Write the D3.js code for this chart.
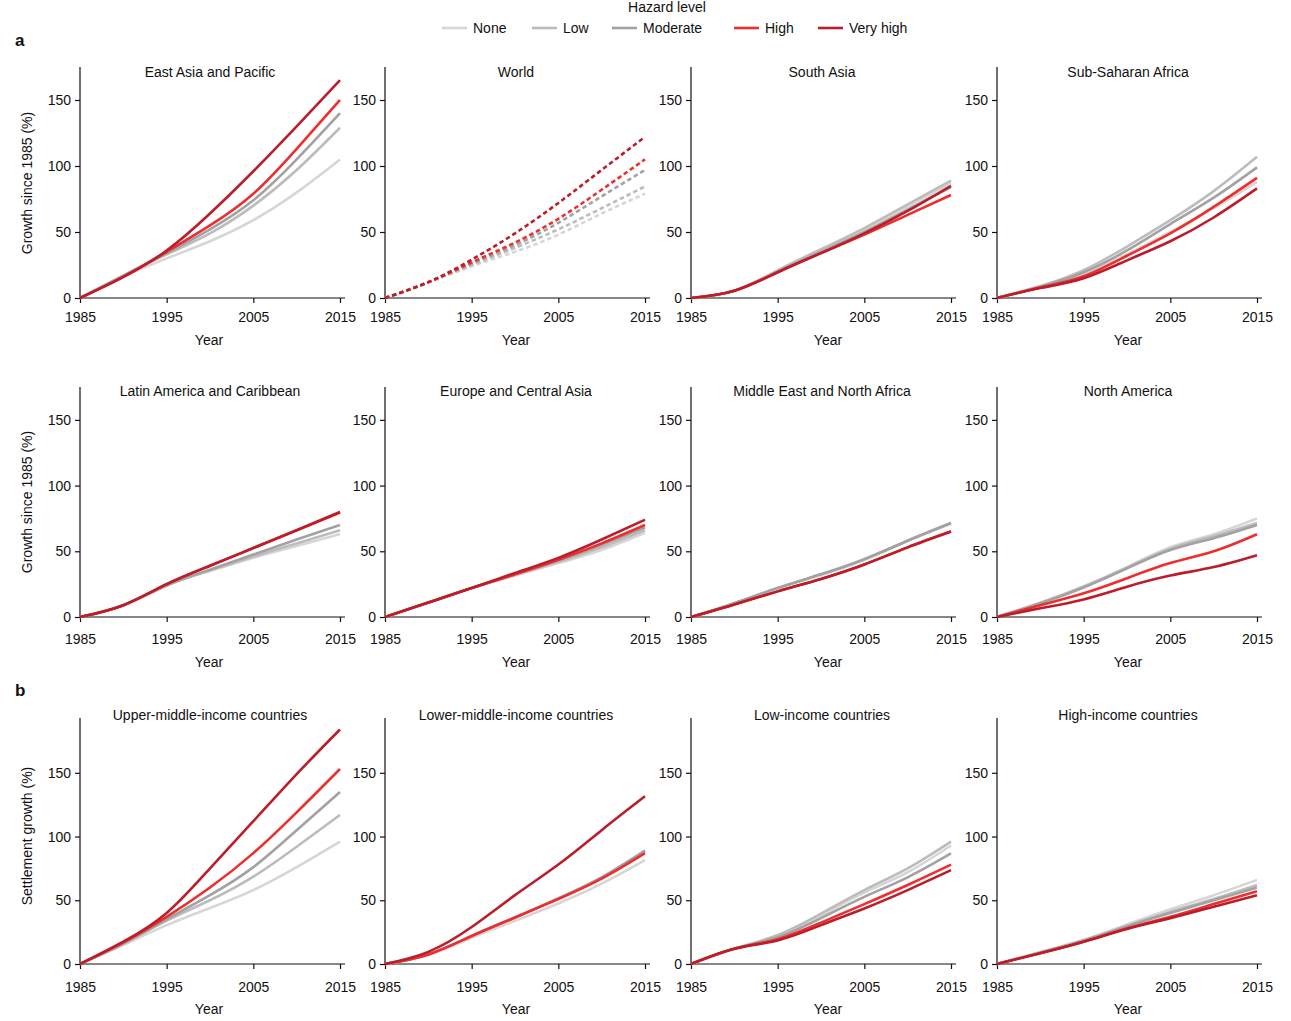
<!DOCTYPE html>
<html><head><meta charset="utf-8">
<script src="https://cdn.jsdelivr.net/npm/d3@7"></script>
<style>
body{margin:0;background:#fff;}
svg text{font-family:"Liberation Sans",Arial,Helvetica,sans-serif;fill:#111;}
</style></head>
<body><svg id="c" width="1291" height="1021"></svg>
<script>
const years = [1985, 1990, 1995, 2000, 2005, 2010, 2015];
const levels = ["None", "Low", "Moderate", "High", "Very high"];
const xTicks = [1985, 1995, 2005, 2015];
const yTicks = [0, 50, 100, 150];

// values per panel: [None, Low, Moderate, High, Very high]
const eastAsia = [
  [0, 16, 30, 43, 59, 80, 105],
  [0, 17, 33, 49, 70, 97, 129],
  [0, 17, 34, 52, 74, 105, 140],
  [0, 16, 35, 55, 79, 113, 150],
  [0, 16, 36, 64, 96, 130, 165]];
const world = [
  [0, 11.5, 24, 35, 48, 64, 79],
  [0, 12, 25, 38, 52, 68, 84.5],
  [0, 12, 26, 40, 57, 77, 97],
  [0, 12, 27, 42, 60, 82, 105],
  [0, 12, 29, 49, 72, 97, 122]];
const southAsia = [
  [0, 5.5, 20, 36, 52, 69, 87],
  [0, 5.5, 21, 37, 53, 71, 89],
  [0, 5.5, 20, 35, 50, 67, 84],
  [0, 5.5, 19.5, 34, 48, 63, 78],
  [0, 5.5, 19.5, 34, 49, 66, 85]];
const subSaharan = [
  [0, 8, 18, 33, 50, 68, 88],
  [0, 9, 21, 39, 59, 81, 107],
  [0, 8.5, 19.5, 36, 56, 76, 99],
  [0, 8, 16.5, 32, 49, 69, 91],
  [0, 7.5, 15, 28.5, 43, 61, 83]];
const latinAmerica = [
  [0, 9, 24, 35, 45, 54, 63],
  [0, 9, 24, 35.5, 46, 56, 66],
  [0, 9, 24, 36, 47.5, 59, 70],
  [0, 9, 25, 39, 52.5, 66, 79.5],
  [0, 9, 25, 39, 52.5, 66, 80]];
const europe = [
  [0, 11, 22, 31.5, 41, 51, 64],
  [0, 11, 22, 32, 42, 53, 66],
  [0, 11, 22, 32.5, 43, 55, 68],
  [0, 11, 22, 32.5, 43.6, 56, 70],
  [0, 11, 22, 33.5, 45, 59, 74]];
const middleEast = [
  [0, 10.5, 22, 32, 43.5, 58, 71],
  [0, 10.5, 22, 32.5, 44, 58, 71.5],
  [0, 10.5, 22, 32.5, 44, 58, 71.5],
  [0, 9.5, 19.5, 29, 40, 53, 65],
  [0, 9.5, 19.5, 29, 40, 53, 65]];
const northAmerica = [
  [0, 11, 23.5, 38, 53, 63, 75],
  [0, 10.5, 23, 37.5, 52, 61.5, 71.5],
  [0, 10.5, 22.5, 37, 51, 60, 70],
  [0, 9, 18, 29.5, 41, 50, 63],
  [0, 6.6, 13.4, 23, 31.5, 38, 47]];
const upperMiddle = [
  [0, 15, 30.5, 44, 58, 76, 96],
  [0, 16, 34, 50, 68.5, 92, 117],
  [0, 16, 35, 54, 76, 105, 135],
  [0, 17, 37, 60, 87, 119, 153],
  [0, 17.5, 40, 75, 112, 149, 184]];
const lowerMiddle = [
  [0, 7, 20.5, 34, 47.5, 63, 81.5],
  [0, 7.5, 22, 36.5, 51.5, 68, 89],
  [0, 7.5, 22, 36.5, 51.5, 68, 89],
  [0, 7.5, 22, 36.5, 51, 67, 87],
  [0, 9.5, 29, 54, 78, 105, 131.6]];
const lowIncome = [
  [0, 12, 22, 38, 56, 72, 93],
  [0, 12, 22.7, 39.5, 58, 75, 96],
  [0, 12, 21, 36, 52.7, 68, 86.7],
  [0, 12, 19.5, 32.5, 47, 62, 78],
  [0, 12, 18.5, 30.5, 43.6, 58, 73.6]];
const highIncome = [
  [0, 9.5, 19, 31, 43, 54, 66],
  [0, 9, 18.5, 30, 41, 51, 62],
  [0, 9, 18.5, 29.5, 40, 50, 60],
  [0, 8.5, 17.5, 28, 37, 47, 57],
  [0, 8.5, 17.5, 27.5, 36, 45, 54]];

const panelTitles = ["East Asia and Pacific", "World", "South Asia", "Sub-Saharan Africa",
  "Latin America and Caribbean", "Europe and Central Asia", "Middle East and North Africa", "North America",
  "Upper-middle-income countries", "Lower-middle-income countries", "Low-income countries", "High-income countries"];
const panelData = [eastAsia, world, southAsia, subSaharan, latinAmerica, europe, middleEast, northAmerica,
  upperMiddle, lowerMiddle, lowIncome, highIncome];

const colors = ["#d6d6d6", "#bcbcbc", "#a2a2a2", "#ee2d2f", "#bb1e2b"];

const svg = d3.select("#c");
const colX = [80, 385, 691, 997];
const titleDx = [0, 1, 1, 1];
const yearDx = [-1, 1, 7, 1];
const rows = [
  {y0: 298, top: 67, max: 175, title: 77, xlab: 345, pad: 9, ylc: 183, ylabel: "Growth since 1985 (%)"},
  {y0: 617, top: 387, max: 175, title: 396, xlab: 667, pad: 12, ylc: 502, ylabel: "Growth since 1985 (%)"},
  {y0: 964, top: 718, max: 193, title: 720, xlab: 1014, pad: 13, ylc: 836, ylabel: "Settlement growth (%)"}];
const W = 260;

panelData.forEach((data, i) => {
  const r = rows[Math.floor(i / 4)];
  const x0 = colX[i % 4];
  const x = d3.scaleLinear().domain([1985, 2015]).range([x0, x0 + W]);
  const y = d3.scaleLinear().domain([0, r.max]).range([r.y0, r.top]);
  const g = svg.append("g");

  const xa = g.append("g").attr("transform", `translate(0,${r.y0})`)
    .call(d3.axisBottom(x).tickValues(xTicks).tickFormat(d3.format("d")).tickSize(5).tickPadding(r.pad).tickSizeOuter(0));
  xa.select(".domain").attr("d", `M${x0},0H${x0 + W + 5}`);
  const ya = g.append("g").attr("transform", `translate(${x0},0)`)
    .call(d3.axisLeft(y).tickValues(yTicks).tickSize(5).tickPadding(4).tickSizeOuter(0));
  ya.select(".domain").attr("d", `M0,${r.y0}V${r.top}`);
  g.selectAll(".tick text").attr("font-size", 14).attr("font-family", "Liberation Sans, Arial, sans-serif").attr("fill", "#111");
  g.selectAll(".domain, .tick line").attr("stroke", "#111").attr("stroke-width", 1.2);

  const line = d3.line().x((d, j) => x(years[j])).y(d => y(d)).curve(d3.curveNatural);
  data.forEach((vals, k) => {
    g.append("path").attr("d", line(vals)).attr("fill", "none")
      .attr("stroke", colors[k]).attr("stroke-width", 2.6)
      .attr("stroke-dasharray", i === 1 ? "4.5,3" : null);
  });

  g.append("text").attr("x", x0 + W / 2 + titleDx[i % 4]).attr("y", r.title).attr("text-anchor", "middle")
    .attr("font-size", 14).text(panelTitles[i]);
  g.append("text").attr("x", x0 + W / 2 + yearDx[i % 4]).attr("y", r.xlab).attr("text-anchor", "middle")
    .attr("font-size", 14).text("Year");
  if (i % 4 === 0) {
    g.append("text").attr("transform", `translate(32,${r.ylc}) rotate(-90)`).attr("text-anchor", "middle")
      .attr("font-size", 14).text(r.ylabel);
  }
});

svg.append("text").attr("x", 15).attr("y", 46).attr("font-size", 17).attr("font-weight", "bold").text("a");
svg.append("text").attr("x", 15).attr("y", 696).attr("font-size", 17).attr("font-weight", "bold").text("b");

// legend
svg.append("text").attr("x", 667).attr("y", 12).attr("text-anchor", "middle").attr("font-size", 14).text("Hazard level");
const legX = [442, 532, 612, 734, 818];
levels.forEach((lv, k) => {
  svg.append("line").attr("x1", legX[k]).attr("x2", legX[k] + 25).attr("y1", 28).attr("y2", 28)
    .attr("stroke", colors[k]).attr("stroke-width", 2.6);
  svg.append("text").attr("x", legX[k] + 31).attr("y", 33).attr("font-size", 14).text(lv);
});
</script></body></html>
